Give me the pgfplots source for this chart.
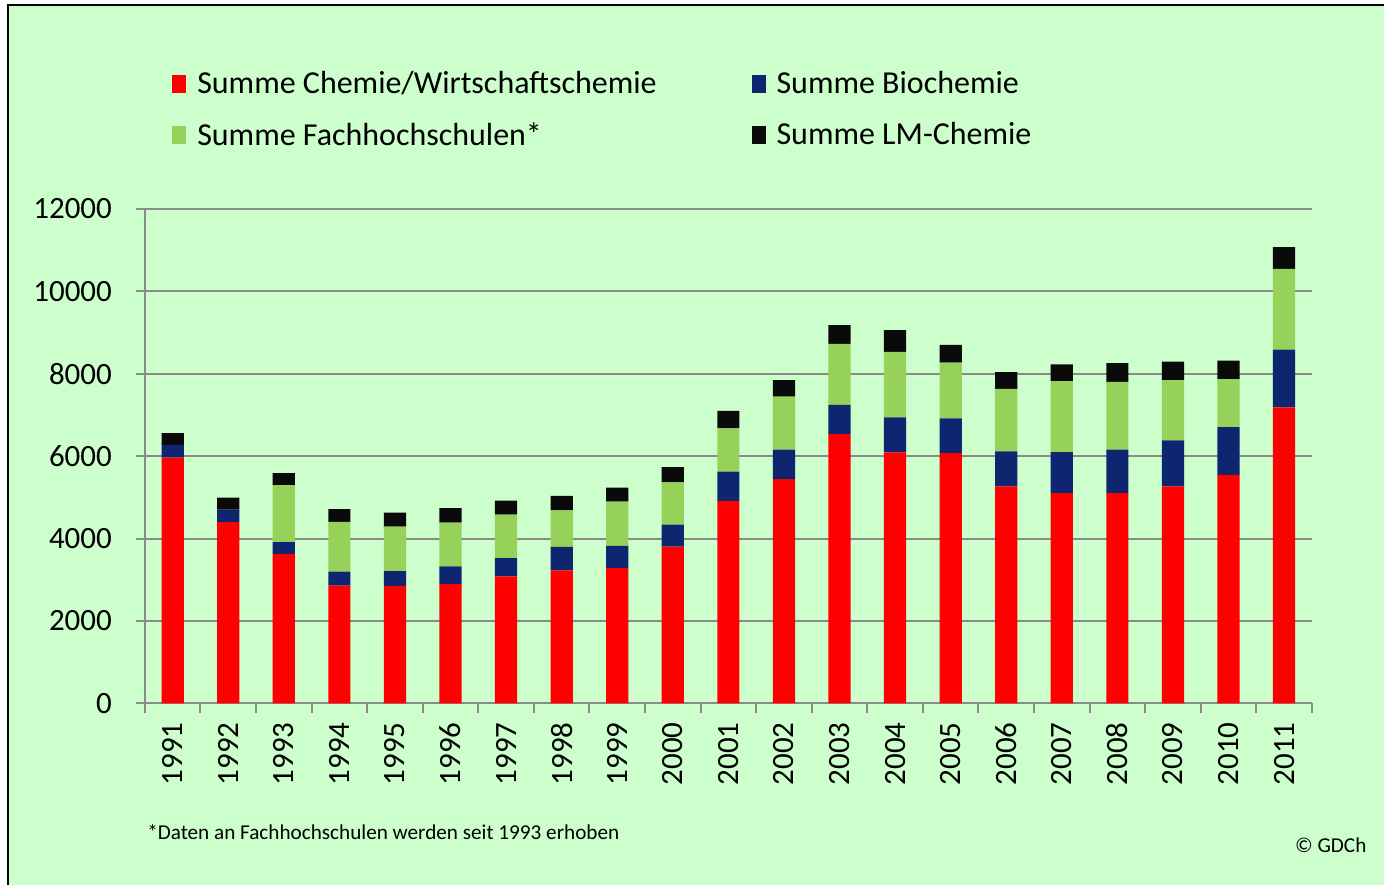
\documentclass[border=0pt]{standalone}
\usepackage{pgfplots}
\pgfplotsset{compat=1.18}
\usepackage{fontspec}
\setmainfont{Carlito}
\definecolor{bg}{HTML}{CCFFCC}
\definecolor{cred}{HTML}{FF0000}
\definecolor{cblue}{HTML}{0E2570}
\definecolor{cgreen}{HTML}{96D25A}
\definecolor{cblack}{HTML}{0A0A0A}
\definecolor{gridgray}{HTML}{8A8A8A}
\pgfplotsset{mylegend/.style={legend image code/.code={\fill[##1] (0pt,-4.5pt) rectangle (7pt,4.5pt); \path (11pt,0pt);}}}
\begin{document}
\begin{tikzpicture}
\fill[white] (-72.5pt,-91pt) rectangle (620pt,352pt);
\fill[bg] (-68.5pt,-91pt) rectangle (620pt,349.5pt);
\draw[black, line width=1.2pt] (-68.5pt,-91pt) -- (-68.5pt,349.5pt) -- (620pt,349.5pt);
\begin{axis}[
  at={(0,0)}, anchor=south west, scale only axis,
  width=584pt, height=247.5pt,
  ybar stacked, bar width=0.4,
  xmin=-0.5, xmax=20.5, ymin=0, ymax=12000,
  xtick={0,1,...,20},
  xticklabels={1991,1992,1993,1994,1995,1996,1997,1998,1999,2000,2001,2002,2003,2004,2005,2006,2007,2008,2009,2010,2011},
  minor xtick={-0.5,0.5,...,20.5},
  major x tick style={draw=none},
  minor x tick style={draw=gridgray, line width=1pt},
  ytick={0,2000,...,12000},
  ymajorgrids, grid style={gridgray, line width=1pt},
  axis x line*=bottom, axis y line*=left,
  axis line style={gridgray, line width=1pt, -},
  tick align=outside,
  major tick length=4.5pt, minor tick length=5pt,
  y tick style={gridgray, line width=1pt},
  scaled y ticks=false,
  /pgf/number format/1000 sep={},
  /pgf/number format/assume math mode=true,
  tick label style={font=\fontsize{15.5}{17}\selectfont, black},
  yticklabel style={xshift=-8.5pt},
  xticklabel style={rotate=90, anchor=east, xshift=-1.5pt},
  legend columns=2,
  legend cell align=left,
  legend style={at={(0.018,1.293)}, anchor=north west, draw=none, fill=none,
    font=\fontsize{16}{18}\selectfont,
    nodes={inner sep=1.5pt},
    /tikz/column 2/.style={column sep=46pt},
    row sep=10pt},
]
\addplot[fill=cred, draw=none, mylegend] coordinates {
(0,5960) (1,4400) (2,3630) (3,2860) (4,2850) (5,2895) (6,3080) (7,3230) (8,3280) (9,3805)
(10,4915) (11,5440) (12,6535) (13,6090) (14,6075) (15,5265) (16,5100) (17,5100) (18,5265) (19,5545) (20,7185)};
\addlegendentry{Summe Chemie/Wirtschaftschemie}
\addplot[fill=cblue, draw=none, mylegend] coordinates {
(0,310) (1,300) (2,285) (3,335) (4,360) (5,430) (6,445) (7,570) (8,540) (9,535)
(10,710) (11,720) (12,705) (13,850) (14,840) (15,850) (16,995) (17,1055) (18,1115) (19,1160) (20,1400)};
\addlegendentry{Summe Biochemie}
\addplot[fill=cgreen, draw=none, mylegend] coordinates {
(0,0) (1,0) (2,1380) (3,1210) (4,1080) (5,1060) (6,1055) (7,880) (8,1075) (9,1025)
(10,1045) (11,1280) (12,1480) (13,1590) (14,1355) (15,1515) (16,1725) (17,1645) (18,1465) (19,1165) (20,1960)};
\addlegendentry{Summe Fachhochschulen*}
\addplot[fill=cblack, draw=none, mylegend] coordinates {
(0,290) (1,290) (2,290) (3,310) (4,340) (5,355) (6,340) (7,355) (8,340) (9,370)
(10,430) (11,405) (12,460) (13,525) (14,430) (15,405) (16,405) (17,455) (18,445) (19,445) (20,525)};
\addlegendentry{Summe LM-Chemie}
\end{axis}
\node[anchor=west, inner sep=0pt, font=\fontsize{10.6}{12}\selectfont] at (1pt,-64.5pt) {*Daten an Fachhochschulen werden seit 1993 erhoben};
\node[anchor=east, inner sep=0pt, font=\fontsize{10.6}{12}\selectfont] at (611.5pt,-71pt) {© GDCh};
\end{tikzpicture}
\end{document}
